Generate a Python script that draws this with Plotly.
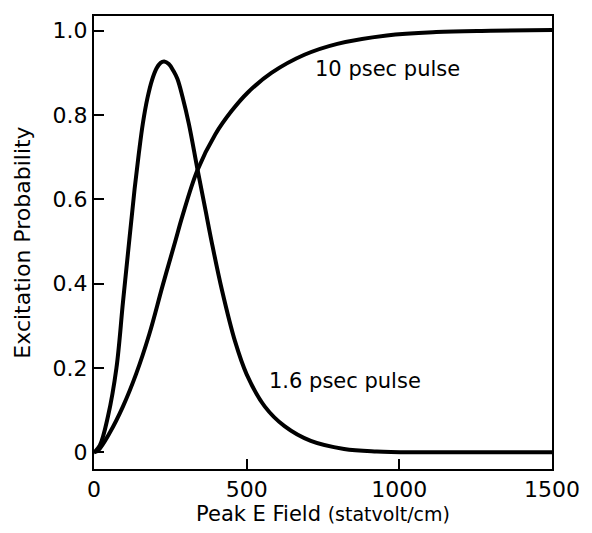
import plotly.graph_objects as go

# Excitation probability vs peak field for two pulse durations
field_short = [0, 19, 46, 73.5, 95, 117, 133, 147, 160, 175, 190, 205, 218, 230, 245,
               260, 273, 290, 311, 338, 365, 386, 419, 462, 500, 559, 624, 710, 819,
               926, 1050, 1200, 1500]
prob_short = [0, 0.016, 0.086, 0.2, 0.357, 0.513, 0.625, 0.71, 0.78, 0.84, 0.883,
              0.911, 0.924, 0.927, 0.921, 0.905, 0.886, 0.843, 0.778, 0.675, 0.575,
              0.497, 0.385, 0.263, 0.185, 0.109, 0.062, 0.027, 0.008, 0.002, 0.0,
              0.0, 0.0]

field_long = [0, 14, 52, 95, 138, 181, 225, 266, 289, 338, 397, 451, 503, 581,
              689, 797, 959, 1121, 1300, 1500]
prob_long = [0, 0.005, 0.047, 0.109, 0.186, 0.28, 0.396, 0.5, 0.559, 0.668, 0.754,
             0.81, 0.853, 0.9, 0.943, 0.969, 0.989, 0.997, 1.0, 1.002]

x_ticks = [0, 500, 1000, 1500]
y_ticks = [0, 0.2, 0.4, 0.6, 0.8, 1.0]
y_tick_text = ["0", "0.2", "0.4", "0.6", "0.8", "1.0"]

FONT = "'DejaVu Sans', sans-serif"

fig = go.Figure()
for xs, ys in [(field_short, prob_short), (field_long, prob_long)]:
    fig.add_trace(go.Scatter(
        x=xs, y=ys, mode="lines",
        line=dict(color="black", width=4, shape="spline", smoothing=1.0),
        showlegend=False, hoverinfo="skip",
    ))

fig.add_annotation(x=962, y=0.909, text="10 psec pulse", showarrow=False,
                   font=dict(family=FONT, size=21, color="black"))
fig.add_annotation(x=823, y=0.170, text="1.6 psec pulse", showarrow=False,
                   font=dict(family=FONT, size=21, color="black"))

fig.update_layout(
    width=592, height=533,
    margin=dict(l=94, r=35, t=16, b=56),
    paper_bgcolor="white", plot_bgcolor="white",
    font=dict(family=FONT, color="black"),
)
fig.update_xaxes(
    range=[0, 1500], tickvals=x_ticks, ticks="inside", ticklen=10, tickwidth=1.5,
    tickcolor="black", showgrid=False, zeroline=False, showline=True,
    linecolor="black", linewidth=2, mirror=True,
    tickfont=dict(family=FONT, size=22),
    title=dict(text="Peak E Field <span style='font-size:19px'>(statvolt/cm)</span>",
               font=dict(family=FONT, size=21), standoff=4),
)
fig.update_yaxes(
    range=[-0.0396, 1.035], tickvals=y_ticks, ticktext=y_tick_text,
    ticks="inside", ticklen=10, tickwidth=1.5, tickcolor="black",
    showgrid=False, zeroline=False, showline=True,
    linecolor="black", linewidth=2, mirror=True,
    tickfont=dict(family=FONT, size=22),
    title=dict(text="Excitation Probability", font=dict(family=FONT, size=22), standoff=16),
)

fig.write_html("out.html")
